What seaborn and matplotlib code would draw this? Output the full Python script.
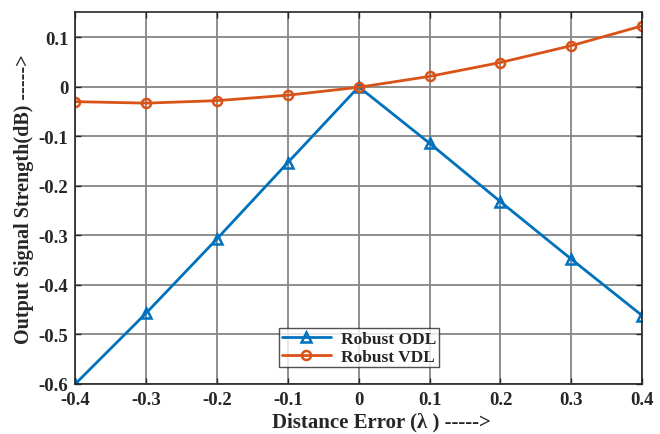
import numpy as np
import pandas as pd
import matplotlib
matplotlib.use("Agg")
import matplotlib.pyplot as plt
import matplotlib.ticker as mticker
import seaborn as sns

# datos
distance_error = [-0.4, -0.3, -0.2, -0.1, 0.0, 0.1, 0.2, 0.3, 0.4]
robust_odl = [-0.600, -0.457, -0.307, -0.153, 0.000, -0.114, -0.232, -0.348, -0.462]
robust_vdl = [-0.030, -0.033, -0.028, -0.017, -0.001, 0.021, 0.049, 0.083, 0.123]

sns.set_style("ticks")
plt.rcParams["font.family"] = ["Liberation Serif", "DejaVu Serif"]
plt.rcParams["font.weight"] = "bold"

df = pd.DataFrame({
    "x": distance_error * 2,
    "y": robust_odl + robust_vdl,
    "serie": ["Robust ODL"] * 9 + ["Robust VDL"] * 9,
})

fig = plt.figure(figsize=(6.6, 4.35), dpi=100)
ax = fig.add_axes([0.114, 0.115, 0.859, 0.854])

colores = {"Robust ODL": "#0072BD", "Robust VDL": "#D95319"}
marcas = {"Robust ODL": "^", "Robust VDL": "o"}
for nombre in ["Robust ODL", "Robust VDL"]:
    sub = df[df["serie"] == nombre]
    sns.lineplot(data=sub, x="x", y="y", ax=ax, color=colores[nombre],
                 marker=marcas[nombre], markersize=6.5, markerfacecolor="none",
                 markeredgecolor=colores[nombre], markeredgewidth=1.8,
                 linewidth=2, label=nombre)

ax.set_xlim(-0.4, 0.4)
ax.set_ylim(-0.6, 0.15)
ax.set_xticks(np.arange(-0.4, 0.41, 0.1))
ax.set_yticks(np.arange(-0.6, 0.11, 0.1))

def fmt(v, _):
    v = round(v, 1)
    if v == 0:
        return "0"
    return f"{v:g}"

ax.xaxis.set_major_formatter(mticker.FuncFormatter(fmt))
ax.yaxis.set_major_formatter(mticker.FuncFormatter(fmt))

ax.grid(True, color="#858585", linewidth=1.3)
ax.tick_params(direction="in", top=True, right=True, length=4, width=1,
               labelsize=13.5, colors="#262626", pad=5)
for lbl in ax.get_xticklabels() + ax.get_yticklabels():
    lbl.set_fontweight("bold")
for s in ax.spines.values():
    s.set_color("#262626")
    s.set_linewidth(1.2)

ax.set_xlabel("Distance Error (λ ) ----->", fontsize=15, fontweight="bold",
              color="#262626")
ax.xaxis.set_label_coords(0.54, -0.075)
ax.set_ylabel("Output Signal Strength(dB) ----->", fontsize=14.5,
              fontweight="bold", color="#262626", labelpad=3)

leg = ax.legend(loc="lower left", bbox_to_anchor=(0.36, 0.045), fontsize=12.5,
                frameon=True, fancybox=False, edgecolor="#262626",
                borderpad=0.15, labelspacing=0.1, handlelength=2.8,
                handletextpad=0.6, borderaxespad=0)
leg.get_frame().set_linewidth(1)
for t in leg.get_texts():
    t.set_fontweight("bold")

fig.savefig("out.png", dpi=100)
